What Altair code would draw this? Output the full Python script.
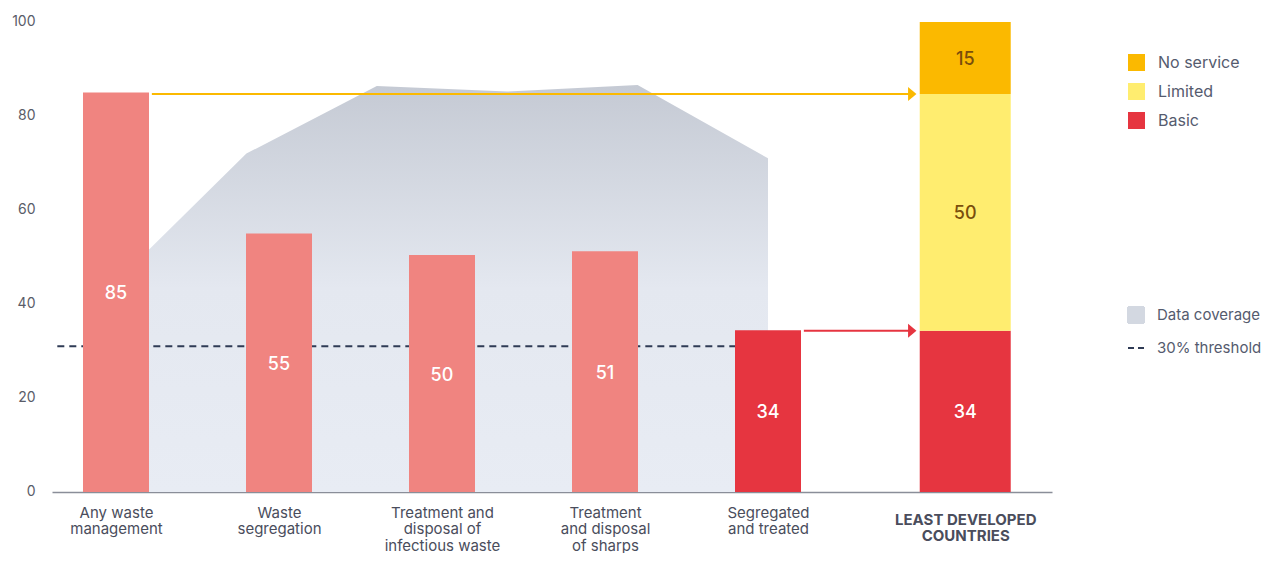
import json
import altair as alt
import pandas as pd

# ---------------- data ----------------
categories = ["Any waste management", "Waste segregation",
              "Treatment and disposal of infectious waste",
              "Treatment and disposal of sharps", "Segregated and treated"]
category_lines = [["Any waste", "management"], ["Waste", "segregation"],
                  ["Treatment and", "disposal of", "infectious waste"],
                  ["Treatment", "and disposal", "of sharps"],
                  ["Segregated", "and treated"]]
category_pos = [0, 1, 2, 3, 4]
indicator_values = [85, 55, 50.4, 51.2, 34.4]

ldc_name = "LEAST DEVELOPED COUNTRIES"
ldc_lines = ["LEAST DEVELOPED", "COUNTRIES"]
ldc_pos = 5.21
service_levels = ["Basic", "Limited", "No service"]
service_values = [34.3, 50.4, 15.3]

coverage_pos = [0.2, 0.8, 1.6, 2.4, 3.2, 4.0]
coverage_values = [51.5, 72, 86.4, 85.2, 86.6, 71]

threshold_value = [31]
threshold_from = [-0.36]
threshold_to = [4.0]

arrow_target = ["No service", "Basic"]
arrow_from = [0.22, 4.22]
arrow_to = [4.885, 4.885]
arrow_values = [84.7, 34.3]

legend2_items = ["Data coverage", "30% threshold"]

# ---------------- styles ----------------
FONT = "Inter"
SALMON = "#f08480"
RED = "#e63540"
YELLOW = "#ffed6f"
ORANGE = "#fbb900"
BROWN = "#7a4e0c"
NAVY = "#2f3b55"

# ---------------- tables ----------------
ind_df = pd.DataFrame({"category": categories, "pos": category_pos,
                       "value": indicator_values})
ind_df["mid"] = ind_df["value"] / 2

y0, acc = [], 0
for v in service_values:
    y0.append(acc)
    acc += v
ldc_df = pd.DataFrame({"level": service_levels, "value": service_values,
                       "y0": y0})
ldc_df["y1"] = ldc_df["y0"] + ldc_df["value"]
ldc_df["mid"] = (ldc_df["y0"] + ldc_df["y1"]) / 2
ldc_df["pos"] = ldc_pos

cov_df = pd.DataFrame({"pos": coverage_pos, "value": coverage_values})
thr_df = pd.DataFrame({"start": threshold_from, "end": threshold_to,
                       "value": threshold_value})
arr_df = pd.DataFrame({"target": arrow_target, "start": arrow_from,
                       "end": arrow_to, "value": arrow_values})
leg_df = pd.DataFrame({"item": legend2_items})

all_pos = category_pos + [ldc_pos]
all_lines = category_lines + [ldc_lines]
label_expr = f"{json.dumps(all_lines)}[indexof({json.dumps(all_pos)}, datum.value)]"

xs = alt.Scale(domain=[-0.3926, 5.7423], nice=False, zero=False, padding=0)
ys = alt.Scale(domain=[0, 100], nice=False, padding=0)

is_ldc = f"datum.value == {ldc_pos}"
x_axis = alt.Axis(title=None, values=all_pos, labelExpr=label_expr,
                  ticks=False, grid=False, domainColor="#8a8e99",
                  domainWidth=1.5, labelFont=FONT, labelFontSize=15,
                  labelColor="#4a4d5c", labelLineHeight=16.5,
                  labelBaseline="top", labelAlign="center",
                  labelOverlap=False, labelBound=False, labelFlush=False,
                  labelPadding={"condition": {"test": is_ldc, "value": 20}, "value": 13},
                  labelFontWeight={"condition": {"test": is_ldc, "value": "bold"}, "value": "normal"})
y_axis = alt.Axis(title=None, values=[0, 20, 40, 60, 80, 100], ticks=False,
                  grid=False, domain=False, labelFont=FONT, labelFontSize=14,
                  labelColor="#5a5c68", labelPadding=17, labelBaseline="bottom",
                  labelOffset=6)


def X(field):
    return alt.X(field, scale=xs, axis=x_axis)


def Y(field):
    return alt.Y(field, scale=ys, axis=y_axis)


gradient = alt.LinearGradient(
    gradient="linear", x1=0, x2=0, y1=0, y2=1,
    stops=[alt.GradientStop(color="#c5cad4", offset=0),
           alt.GradientStop(color="#e4e8f0", offset=0.5),
           alt.GradientStop(color="#e8ecf4", offset=1)])

area = alt.Chart(cov_df).mark_area(color=gradient, interpolate="linear").encode(
    x=X("pos:Q"), y=Y("value:Q"), y2=alt.datum(0))

threshold = alt.Chart(thr_df).mark_rule(color=NAVY, strokeWidth=2,
                                        strokeDash=[7, 5]).encode(
    x=X("start:Q"), x2="end:Q", y=Y("value:Q"))

bars = alt.Chart(ind_df).mark_bar(size=66).encode(
    x=X("pos:Q"), y=Y("value:Q"), y2=alt.datum(0),
    color=alt.condition("datum.category == 'Segregated and treated'",
                        alt.value(RED), alt.value(SALMON)))

bar_text = alt.Chart(ind_df).mark_text(font=FONT, fontSize=18, fontWeight=500,
                                       color="white", dy=2).encode(
    x=X("pos:Q"), y=Y("mid:Q"), text=alt.Text("value:Q", format=".0f"))

leg1 = alt.Legend(title=None, orient="none", legendX=1076, legendY=32,
                  symbolType="square", symbolSize=289, symbolStrokeWidth=0,
                  labelOffset=13, rowPadding=12, padding=0, labelFont=FONT,
                  labelFontSize=16, labelColor="#555b6e")

ldc_bars = alt.Chart(ldc_df).mark_bar(size=91).encode(
    x=X("pos:Q"), y=Y("y0:Q"), y2="y1:Q",
    color=alt.Color("level:N", scale=alt.Scale(
        domain=["No service", "Limited", "Basic"],
        range=[ORANGE, YELLOW, RED]), legend=leg1))

ldc_text = alt.Chart(ldc_df).mark_text(font=FONT, fontSize=18,
                                       fontWeight=500, dy=2).encode(
    x=X("pos:Q"), y=Y("mid:Q"), text=alt.Text("value:Q", format=".0f"),
    color=alt.condition("datum.level == 'Basic'", alt.value("white"),
                        alt.value(BROWN)))

arrow_color = alt.condition("datum.target == 'Basic'", alt.value(RED),
                            alt.value(ORANGE))
arrow_lines = alt.Chart(arr_df).mark_rule(strokeWidth=2).encode(
    x=X("start:Q"), x2="end:Q", y=Y("value:Q"), color=arrow_color)
arrow_heads = alt.Chart(arr_df).mark_point(
    shape="M-0.6,-1L0.6,0L-0.6,1Z", size=196, filled=True, opacity=1).encode(
    x=X("end:Q"), y=Y("value:Q"), color=arrow_color)

leg2 = alt.Legend(title=None, orient="none", legendX=1075, legendY=284,
                  symbolSize=256, symbolStrokeWidth=2, labelOffset=12,
                  rowPadding=12, padding=0, labelFont=FONT, labelFontSize=15,
                  labelColor="#555b6e", symbolOpacity=1)
legend_layer = alt.Chart(leg_df).mark_point(filled=True, opacity=1).encode(
    shape=alt.Shape("item:N", scale=alt.Scale(domain=legend2_items,
                                              range=["square", "stroke"]),
                    legend=leg2),
    fill=alt.Fill("item:N", scale=alt.Scale(domain=legend2_items,
                                            range=["#d3d8e1", "transparent"]),
                  legend=leg2),
    stroke=alt.Stroke("item:N", scale=alt.Scale(domain=legend2_items,
                                                range=["#d3d8e1", NAVY]),
                      legend=leg2),
    strokeDash=alt.StrokeDash("item:N", scale=alt.Scale(
        domain=legend2_items, range=[[1, 0], [6, 4]]), legend=leg2),
).transform_filter("false")

chart = alt.layer(area, threshold, bars, bar_text, ldc_bars, ldc_text,
                  arrow_lines, arrow_heads, legend_layer).resolve_scale(
    color="independent").properties(
    width=1000, height=470,
    autosize=alt.AutoSizeParams(type="none"),
    padding={"left": 44, "top": 14, "right": 212, "bottom": 61},
).configure_view(stroke=None)

chart.save("out.html", embed_options={"renderer": "svg", "actions": False})
